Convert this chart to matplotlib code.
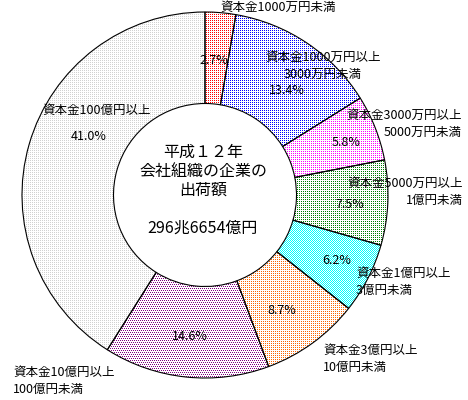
import numpy as np
import matplotlib
matplotlib.use('Agg')
import matplotlib.pyplot as plt

plt.rcParams['font.family'] = ['Noto Sans CJK JP', 'DejaVu Sans']

# ---- data ----
categories = [
    "資本金1000万円未満",
    "資本金1000万円以上\n3000万円未満",
    "資本金3000万円以上\n5000万円未満",
    "資本金5000万円以上\n1億円未満",
    "資本金1億円以上\n3億円未満",
    "資本金3億円以上\n10億円未満",
    "資本金10億円以上\n100億円未満",
    "資本金100億円以上",
]
shares = [2.7, 13.4, 5.8, 7.5, 6.2, 8.7, 14.6, 41.0]
center_title = ["平成１２年", "会社組織の企業の", "出荷額"]
center_total = "296兆6654億円"

# ---- style / layout ----
dot_colors = [(1, 0, 0), (0, 0, 1), (1, 0, 1), (0, 0.5, 0),
              (0, 1, 1), (1, 0.4, 0), (0.5, 0, 0.5), (0.82, 0.82, 0.82)]
# pattern kind: 'dense' = checkerboard, 'stagger' = offset dots,
# else (row phase, col phase) of 1-in-4 dots
patterns = [(0, 0), (0, 0), (1, 1), (1, 1), 'dense', (1, 1), 'stagger', (0, 0)]
pct_pos = [(214, 60), (287, 91), (346, 142), (350, 205), (337, 260),
           (282, 310), (190, 337), (89, 137)]
cat_pos = [(278, 7, 'center'), (323, 57, 'center'), (462, 115, 'right'),
           (463, 183, 'right'), (356, 273, 'left'), (323, 350, 'left'),
           (13, 372, 'left'), (97, 110, 'center')]
line_step = 17

W, H = 468, 400
fig = plt.figure(figsize=(W / 100, H / 100), dpi=100)
ax = fig.add_axes([0, 0, 1, 1])
cx, cy, R = 205, H - 195, 183

wedges, _ = ax.pie(shares, radius=R, center=(cx, cy), startangle=90,
                   counterclock=False, normalize=True,
                   wedgeprops=dict(width=R * 0.5, facecolor='none',
                                   edgecolor='black', linewidth=0.8))

rows, cols = np.mgrid[0:H, 0:W]
for w, rgb, pat in zip(wedges, dot_colors, patterns):
    if pat == 'dense':
        mask = ((rows + cols) % 2 == 0)
    elif pat == 'stagger':
        mask = (rows % 2 == 0) & (cols % 2 == ((rows // 2) % 2))
    else:
        mask = (rows % 2 == pat[0]) & (cols % 2 == pat[1])
    img = np.ones((H, W, 3))
    img[mask] = rgb
    im = ax.imshow(img, extent=(0, W, 0, H), interpolation='nearest', zorder=1)
    im.set_clip_path(w)
    w.set_zorder(2)

# percentage labels
for v, (px, py) in zip(shares, pct_pos):
    ax.text(px, H - py, f"{v:.1f}%", ha='center', va='center', fontsize=9, zorder=5)

# category labels
for lab, (px, py, ha) in zip(categories, cat_pos):
    for i, line in enumerate(lab.split("\n")):
        ax.text(px, H - (py + i * line_step), line, ha=ha, va='center',
                fontsize=9, zorder=5)

# center text
for i, line in enumerate(center_title):
    ax.text(203, H - (152 + i * 19), line, ha='center', va='center', fontsize=11.5, zorder=5)
ax.text(203, H - 228, center_total, ha='center', va='center', fontsize=11.5, zorder=5)

ax.set_xlim(0, W)
ax.set_ylim(0, H)
ax.axis('off')
fig.savefig('out.png', dpi=100)
